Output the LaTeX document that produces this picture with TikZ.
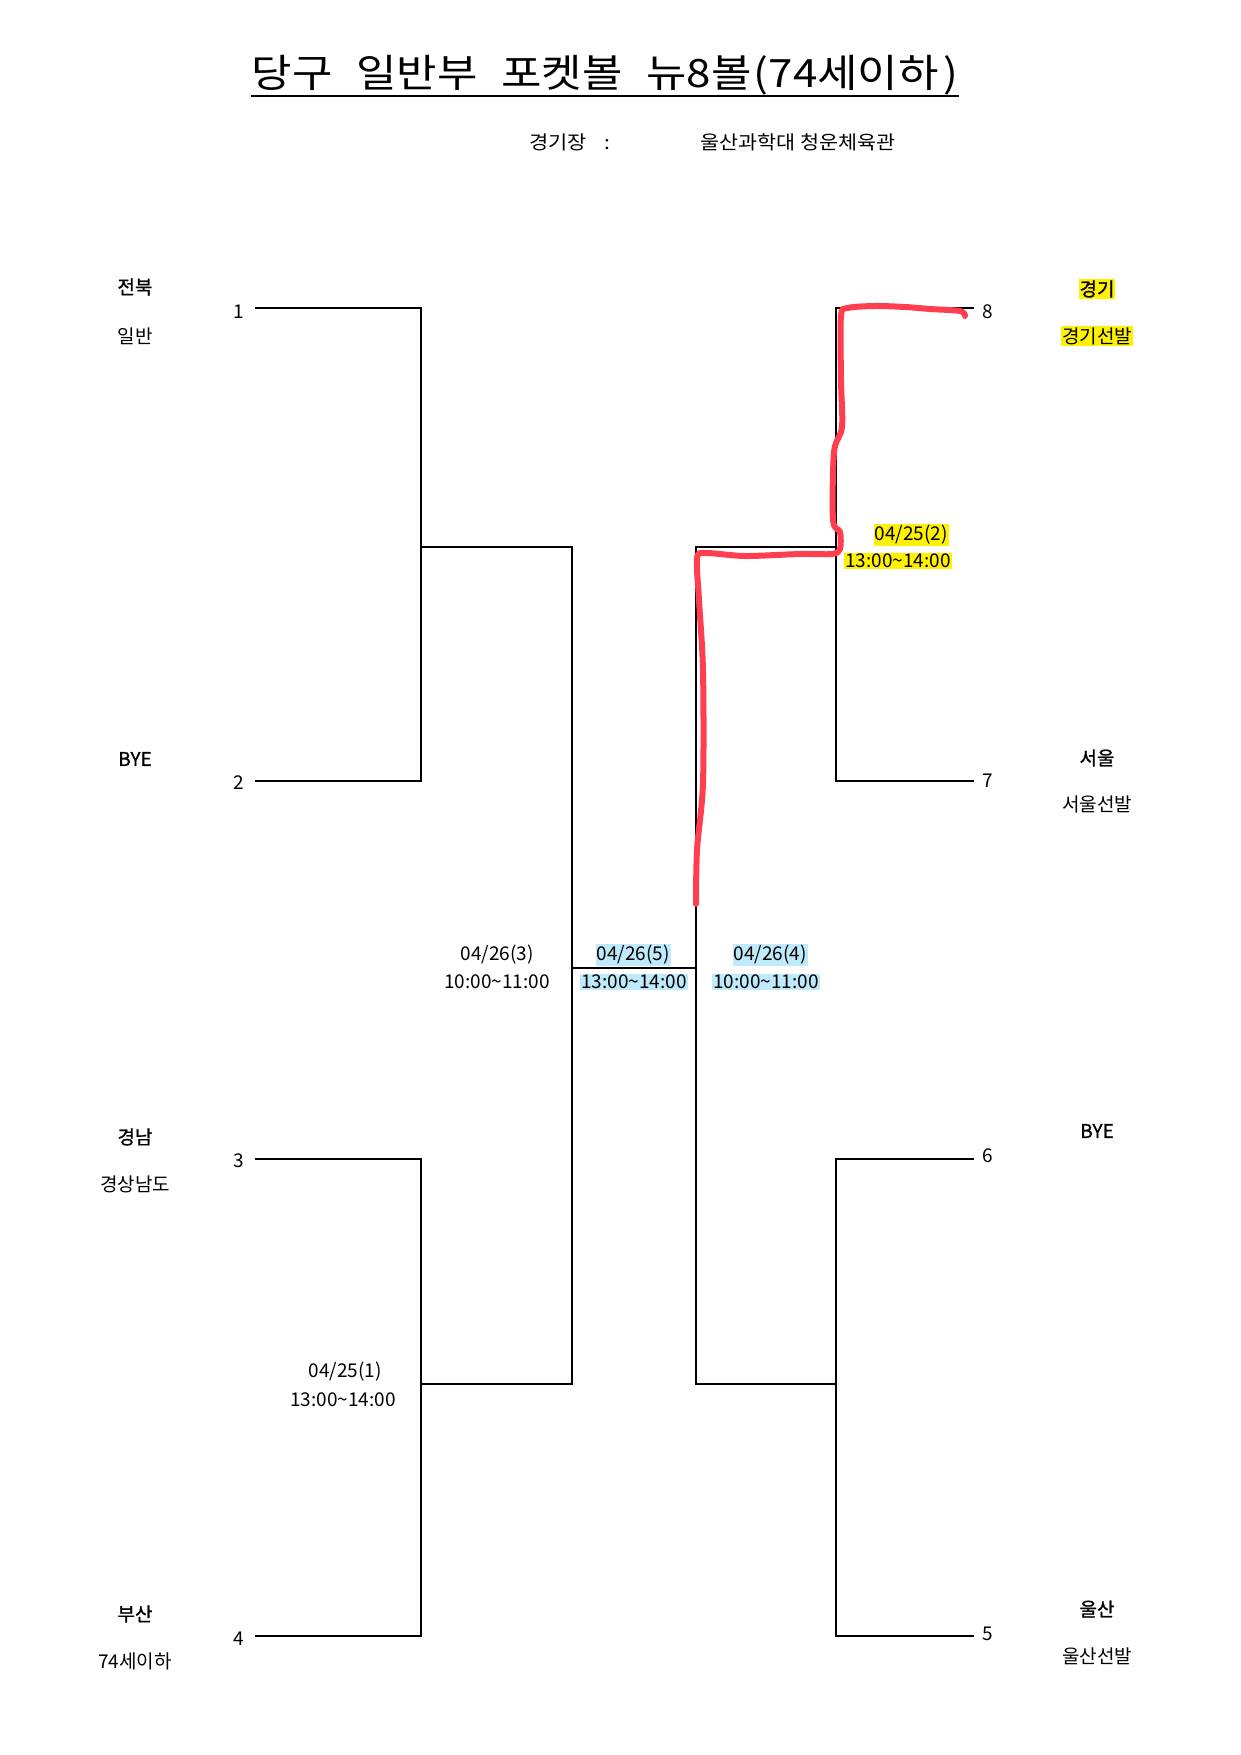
\documentclass[tikz,border=0pt]{standalone}
\usepackage{fontspec}
\usepackage{graphicx}
\setmainfont{Noto Sans CJK KR}
\newfontfamily\semibold[FakeBold=1]{Noto Sans CJK KR}
\usetikzlibrary{calc}
\definecolor{penred}{RGB}{255,62,80}
\newcommand{\wbox}[2]{\resizebox{#1}{\height}{#2}}
\tikzset{
  bracket/.style={line width=1.4pt, black},
  num/.style={font=\fontsize{19}{22}\selectfont, inner sep=0pt},
  lbl/.style={font=\fontsize{19}{22}\selectfont, inner sep=0pt},
  lblb/.style={font=\fontsize{19}{22}\selectfont\semibold, inner sep=0pt},
  match/.style={font=\fontsize{19}{22}\selectfont, inner sep=1pt},
  hly/.style={fill=yellow},
  hlc/.style={fill=cyan!25},
  redpen/.style={draw=penred, line width=6pt, line cap=round, line join=round}
}
\begin{document}
\begin{tikzpicture}[x=1pt,y=-1pt]
\useasboundingbox (0,0) rectangle (1240,1755);
% title
\node[inner sep=0pt] (title) at (605,75) {\fontsize{39}{44}\selectfont\wbox{706pt}{당구\hspace{21pt}일반부\hspace{21pt}포켓볼\hspace{21pt}뉴8볼\hspace{2pt}(74세이하\hspace{4pt})}};
\coordinate (ulA) at (251,96);
\coordinate (ulB) at (959,96);
\draw[line width=2.7pt] (ulA) -- (ulB);
\node[lbl, anchor=west] (venuek) at (529,142) {\wbox{81pt}{경기장\hspace{16pt}:}};
\node[lbl, anchor=west] (venue) at (700,142) {\wbox{195pt}{울산과학대 청운체육관}};
% bracket coordinates
\coordinate (p1) at (255,308);
\coordinate (p2) at (255,781);
\coordinate (p3) at (255,1159);
\coordinate (p4) at (255,1636);
\coordinate (a) at (421,547);
\coordinate (b) at (421,1384);
\coordinate (a2) at (572,547);
\coordinate (b2) at (572,1384);
\coordinate (c) at (572,968);
\coordinate (f) at (696,968);
\coordinate (d2) at (696,547);
\coordinate (e2) at (696,1384);
\coordinate (d) at (836,547);
\coordinate (e) at (836,1384);
\coordinate (p8) at (974,308);
\coordinate (p7) at (974,781);
\coordinate (p6) at (974,1159);
\coordinate (p5) at (974,1636);
% left bracket
\draw[bracket] (p1) -| (a) |- (p2);
\draw[bracket] (p3) -| (b) |- (p4);
\draw[bracket] (a) -- (a2) -- (b2) -- (b);
\draw[bracket] (c) -- (f);
% right bracket
\draw[bracket] (p8) -| (d) |- (p7);
\draw[bracket] (p6) -| (e) |- (p5);
\draw[bracket] (d) -- (d2) -- (e2) -- (e);
% numbers
\node[num] (n1) at (239,312) {1};
\node[num] (n2) at (239,783) {2};
\node[num] (n3) at (239,1161) {3};
\node[num] (n4) at (239,1639) {4};
\node[num] (n8) at (988,312) {8};
\node[num] (n7) at (988,781) {7};
\node[num] (n6) at (988,1156) {6};
\node[num] (n5) at (988,1634) {5};
% left labels
\node[lblb] (t1a) at (135,287) {전북};
\node[lbl] (t1b) at (135,336) {일반};
\node[lblb] (t2a) at (135,759) {BYE};
\node[lblb] (t3a) at (135,1137) {경남};
\node[lbl] (t3b) at (135,1184) {경상남도};
\node[lblb] (t4a) at (135,1614) {부산};
\node[lbl] (t4b) at (135,1661) {74세이하};
% right labels
\node[lblb, hly, inner sep=1pt] (t8a) at (1097,289) {경기};
\node[lbl, hly, inner sep=1pt] (t8b) at (1097,336) {경기선발};
\node[lblb] (t7a) at (1097,758) {서울};
\node[lbl] (t7b) at (1097,804) {서울선발};
\node[lblb] (t6a) at (1097,1131) {BYE};
\node[lblb] (t5a) at (1097,1609) {울산};
\node[lbl] (t5b) at (1097,1656) {울산선발};
% match labels
\node[match] (m3a) at (497,955) {04/26(3)};
\node[match] (m3b) at (497,982) {10:00\textasciitilde 11:00};
\node[match, hlc] (m5a) at (633,955) {04/26(5)};
\node[match, hlc] (m5b) at (634,982) {13:00\textasciitilde 14:00};
\node[match, hlc] (m4a) at (770,955) {04/26(4)};
\node[match, hlc] (m4b) at (766,982) {10:00\textasciitilde 11:00};
\node[match, hly] (m2a) at (911,535) {04/25(2)};
\node[match, hly] (m2b) at (898,561) {13:00\textasciitilde 14:00};
\node[match] (m1a) at (345,1372) {04/25(1)};
\node[match] (m1b) at (343,1400) {13:00\textasciitilde 14:00};
% red pen mark
\draw[redpen] plot[smooth, tension=0.5] coordinates {(965,316) (960,311) (930,309) (905,307) (875,306) (848,308) (841,316) (841,380) (842,427) (834,452) (833,520) (840,532) (840,549) (832,554) (800,554) (745,556) (706,553) (697,558) (699,600) (703,671) (703,783) (697,850) (696,904)};
\end{tikzpicture}
\end{document}
